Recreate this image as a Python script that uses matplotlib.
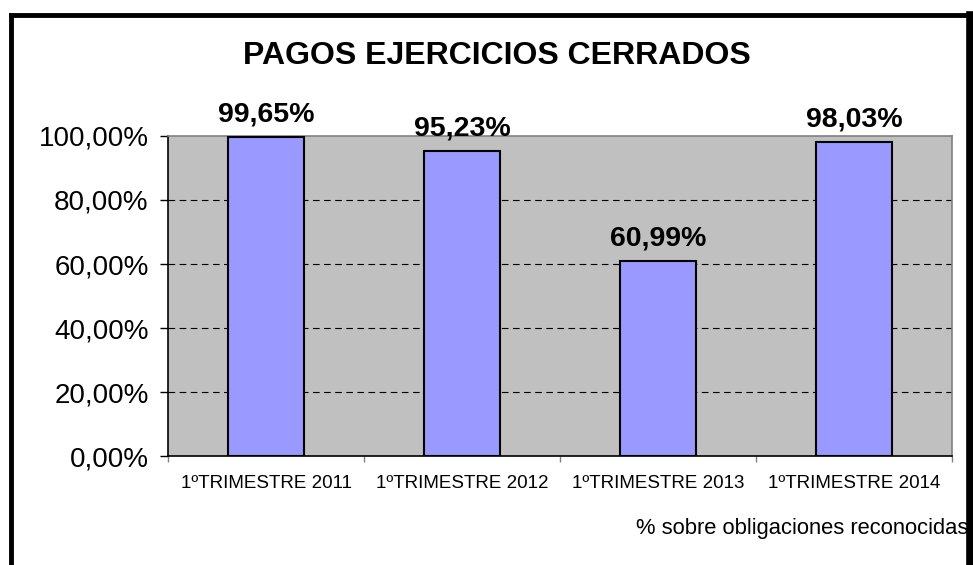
import matplotlib.pyplot as plt
from matplotlib.lines import Line2D

plt.rcParams['font.family'] = ['Liberation Sans', 'DejaVu Sans']

# Datos
categorias = ['1ºTRIMESTRE 2011', '1ºTRIMESTRE 2012', '1ºTRIMESTRE 2013', '1ºTRIMESTRE 2014']
valores = [99.65, 95.23, 60.99, 98.03]
etiquetas = ['99,65%', '95,23%', '60,99%', '98,03%']
ticks_y = [0, 20, 40, 60, 80, 100]

fig = plt.figure(figsize=(9.73, 5.65), dpi=100)
ax = fig.add_axes([0.1727, 0.1929, 0.8058, 0.5664])
ax.set_facecolor('#C0C0C0')

x = list(range(len(categorias)))
barras = ax.bar(x, valores, width=0.39, color='#9999FF', edgecolor='black',
                linewidth=1.5, zorder=3)

# Etiquetas de valor
for xi, v, t in zip(x, valores, etiquetas):
    ax.annotate(t, (xi, v), xytext=(0, 7), textcoords='offset points',
                ha='center', va='bottom', fontsize=20.5, fontweight='bold')

ax.set_xlim(-0.5, 3.5)
ax.set_ylim(0, 100)
ax.set_yticks(ticks_y)
ax.set_yticklabels([f'{t:.2f}'.replace('.', ',') + '%' for t in ticks_y], fontsize=20)
ax.tick_params(axis='y', length=6, width=1, pad=8)

ax.set_xticks([-0.5, 0.5, 1.5, 2.5, 3.5])
ax.set_xticklabels([])
ax.set_xticks(x, minor=True)
ax.set_xticklabels(categorias, minor=True, fontsize=13.5)
ax.tick_params(axis='x', which='major', length=4, width=1, color='#808080')
ax.tick_params(axis='x', which='minor', length=0, pad=14)

# Rejilla discontinua
for t in ticks_y[1:-1]:
    ax.axhline(t, color='black', linestyle=(0, (6, 4)), linewidth=0.8, zorder=1)

ax.spines['top'].set_color('#808080')
ax.spines['right'].set_color('#808080')
ax.spines['left'].set_color('black')
ax.spines['bottom'].set_color('black')
for s in ax.spines.values():
    s.set_linewidth(1.2)

fig.text(0.511, 0.900, 'PAGOS EJERCICIOS CERRADOS', ha='center', va='center',
         fontsize=23, fontweight='bold')
fig.text(0.995, 0.064, '% sobre obligaciones reconocidas', ha='right', va='center',
         fontsize=15.8)

# Marco exterior
marco = dict(color='black', linewidth=3.5, transform=fig.transFigure)
fig.add_artist(Line2D([10.5 / 973, 10.5 / 973], [0, 1 - 14.5 / 565], **marco))
fig.add_artist(Line2D([10.5 / 973, 1], [1 - 14.5 / 565, 1 - 14.5 / 565], **marco))
fig.add_artist(Line2D([969.5 / 973, 969.5 / 973], [0, 1 - 14.5 / 565], color='black',
                      linewidth=5.5, transform=fig.transFigure))

fig.savefig('out.png', dpi=100)
